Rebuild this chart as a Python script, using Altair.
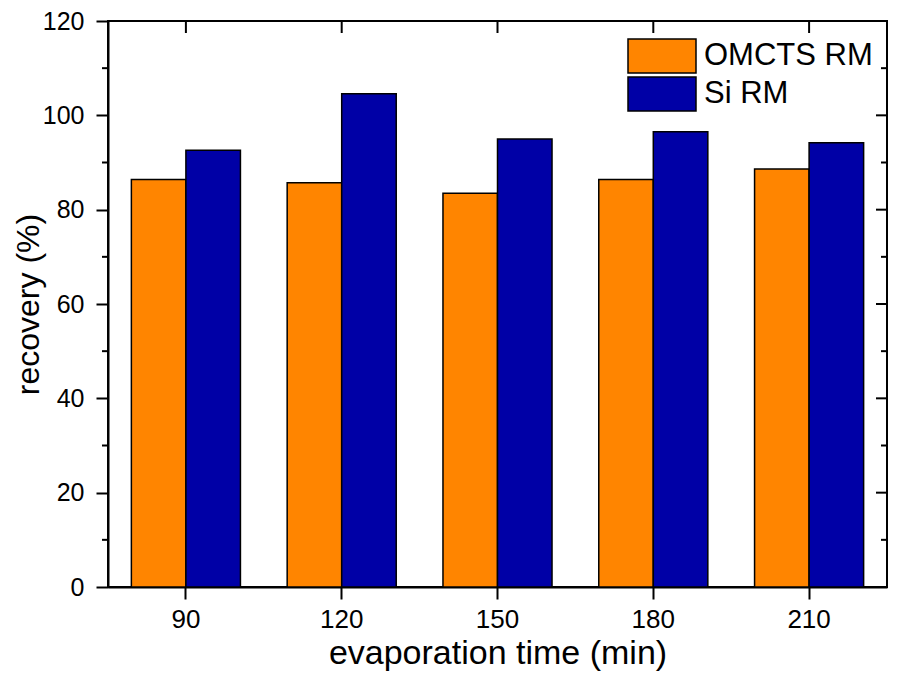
import altair as alt
import pandas as pd

# ---- data ----
times = ["90", "120", "150", "180", "210"]
series = ["OMCTS RM", "Si RM"]
omcts = [86.4, 85.7, 83.5, 86.4, 88.6]
si = [92.6, 104.6, 95.0, 96.5, 94.2]
colors = ["#FF8500", "#0000A6"]

y_major = [0, 20, 40, 60, 80, 100, 120]
y_minor = [10, 30, 50, 70, 90, 110]

rows = []
for t, a, b in zip(times, omcts, si):
    rows.append({"time": t, "series": series[0], "value": a})
    rows.append({"time": t, "series": series[1], "value": b})
df = pd.DataFrame(rows)

FONT = "Liberation Sans"
W, H = 779, 566

xscale = alt.Scale(paddingInner=0.3, paddingOuter=0.15)
yscale = alt.Scale(domain=[0, 120], nice=False, zero=True)

xaxis = alt.Axis(title="evaporation time (min)", labelAngle=0,
                 tickSize=12, labelPadding=7, titlePadding=4,
                 labelFontSize=26, titleFontSize=34,
                 titleFontWeight="normal")
yaxis = alt.Axis(title="recovery (%)", values=y_major, tickSize=12,
                 labelPadding=12, titlePadding=-3,
                 labelFontSize=25, titleFontSize=32,
                 titleFontWeight="normal")

bars = alt.Chart(df).mark_bar(stroke="black", strokeWidth=1.5).encode(
    x=alt.X("time:N", sort=times, scale=xscale, axis=xaxis),
    xOffset=alt.XOffset("series:N", sort=series,
                        scale=alt.Scale(paddingInner=0, paddingOuter=0)),
    y=alt.Y("value:Q", scale=yscale, axis=yaxis),
    color=alt.Color("series:N", sort=series,
                    scale=alt.Scale(domain=series, range=colors),
                    legend=alt.Legend(orient="none", legendX=536, legendY=17,
                                      title=None,
                                      symbolType="M-2,-1H2V1H-2Z",
                                      symbolSize=1156,
                                      symbolStrokeColor="black",
                                      symbolStrokeWidth=1.5,
                                      symbolOpacity=1,
                                      labelFontSize=31, labelFont=FONT,
                                      labelColor="black", labelLimit=400,
                                      labelOffset=24, rowPadding=-3,
                                      padding=0)),
)

ymin_df = pd.DataFrame({"value": y_minor})
ymaj_df = pd.DataFrame({"value": y_major})
top_df = pd.DataFrame({"time": times})

left_minor = alt.Chart(ymin_df).mark_rule(color="black", strokeWidth=2).encode(
    y=alt.Y("value:Q", scale=yscale, axis=yaxis),
    x=alt.value(0), x2=alt.value(-6))
right_major = alt.Chart(ymaj_df).mark_rule(color="black", strokeWidth=2).encode(
    y=alt.Y("value:Q", scale=yscale, axis=yaxis),
    x=alt.value(W), x2=alt.value(W - 11))
right_minor = alt.Chart(ymin_df).mark_rule(color="black", strokeWidth=2).encode(
    y=alt.Y("value:Q", scale=yscale, axis=yaxis),
    x=alt.value(W), x2=alt.value(W - 6))
top_ticks = alt.Chart(top_df).mark_rule(color="black", strokeWidth=2).encode(
    x=alt.X("time:N", sort=times, scale=xscale, axis=xaxis, bandPosition=0.5),
    y=alt.value(0), y2=alt.value(12))

chart = alt.layer(bars, left_minor, right_major, right_minor, top_ticks).properties(
    width=W, height=H,
    autosize=alt.AutoSizeParams(type="none"),
    padding={"left": 100, "top": 13, "right": 2, "bottom": 86},
).configure_view(stroke="black", strokeWidth=2).configure_axis(
    domainColor="black", domainWidth=2, tickColor="black", tickWidth=2,
    labelColor="black", titleColor="black", labelFont=FONT, titleFont=FONT,
    grid=False,
).configure_text(font=FONT)

chart.save("out.html", embed_options={"renderer": "svg", "actions": False})
